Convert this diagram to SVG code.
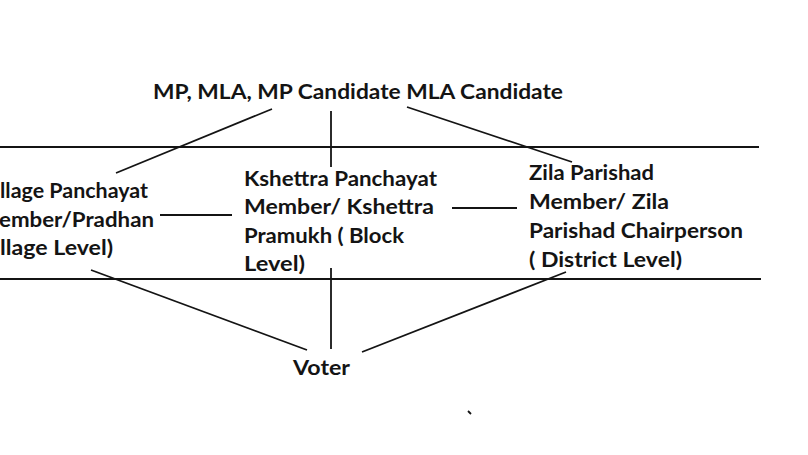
<svg xmlns="http://www.w3.org/2000/svg" width="808" height="455" viewBox="0 0 808 455">
<style>
.t{font-family:Lato,"Open Sans","Liberation Sans",sans-serif;font-size:20px;fill:#141414;font-weight:bold}
.ln{stroke:#141414;stroke-width:1.8;fill:none}
</style>
<rect width="808" height="455" fill="#fff"/>
<g id="bands">
<line class="ln" x1="0" y1="147" x2="759" y2="147"/>
<line class="ln" x1="0" y1="279" x2="761" y2="279"/>
</g>
<g id="connectors">
<line class="ln" x1="272" y1="109" x2="116" y2="173"/>
<line class="ln" x1="331" y1="111" x2="331" y2="167"/>
<line class="ln" x1="407" y1="107" x2="572" y2="162"/>
<line class="ln" x1="160" y1="215" x2="232" y2="215"/>
<line class="ln" x1="452" y1="208" x2="517" y2="208"/>
<line class="ln" x1="91" y1="270" x2="307" y2="350"/>
<line class="ln" x1="331" y1="268" x2="331" y2="349"/>
<line class="ln" x1="362" y1="352" x2="566" y2="272"/>
<line class="ln" x1="468" y1="411" x2="471" y2="414"/>
</g>
<g id="node-top">
<text class="t" x="153" y="99" textLength="410" lengthAdjust="spacingAndGlyphs">MP, MLA, MP Candidate MLA Candidate</text>
</g>
<g id="node-village">
<text class="t" x="0" y="198" textLength="148" lengthAdjust="spacingAndGlyphs">llage Panchayat</text>
<text class="t" x="-1" y="227" textLength="155" lengthAdjust="spacingAndGlyphs">ember/Pradhan</text>
<text class="t" x="0" y="255" textLength="113" lengthAdjust="spacingAndGlyphs">llage Level)</text>
</g>
<g id="node-block">
<text class="t" x="244" y="186" textLength="193" lengthAdjust="spacingAndGlyphs">Kshettra Panchayat</text>
<text class="t" x="244" y="214" textLength="190" lengthAdjust="spacingAndGlyphs">Member/ Kshettra</text>
<text class="t" x="244" y="243" textLength="160" lengthAdjust="spacingAndGlyphs">Pramukh ( Block</text>
<text class="t" x="244" y="271" textLength="61" lengthAdjust="spacingAndGlyphs">Level)</text>
</g>
<g id="node-district">
<text class="t" x="529" y="180" textLength="125" lengthAdjust="spacingAndGlyphs">Zila Parishad</text>
<text class="t" x="529" y="209" textLength="140" lengthAdjust="spacingAndGlyphs">Member/ Zila</text>
<text class="t" x="529" y="238" textLength="214" lengthAdjust="spacingAndGlyphs">Parishad Chairperson</text>
<text class="t" x="529" y="267" textLength="153" lengthAdjust="spacingAndGlyphs">( District Level)</text>
</g>
<g id="node-voter">
<text class="t" x="293" y="375" textLength="57" lengthAdjust="spacingAndGlyphs">Voter</text>
</g>
</svg>
